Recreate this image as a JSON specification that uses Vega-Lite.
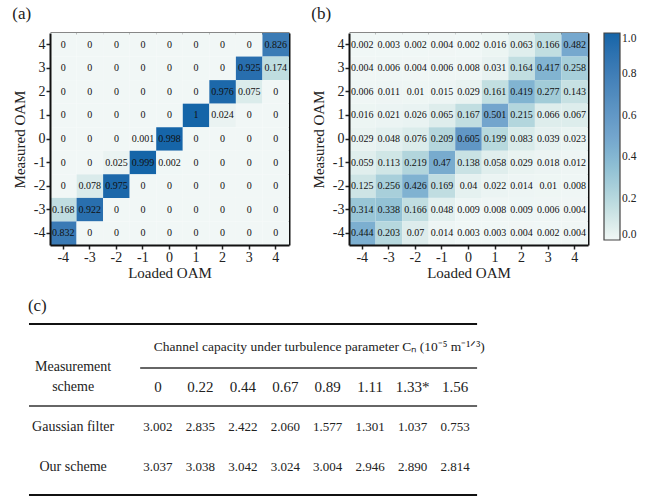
{
  "$schema": "https://vega.github.io/schema/vega-lite/v6.json",
  "padding": {"left": 12, "top": 5, "right": 0, "bottom": 0},
  "background": "white",
  "config": {
    "font": "Liberation Serif",
    "view": {"stroke": null},
    "axis": {"labelFont": "Liberation Serif", "titleFont": "Liberation Serif", "labelFontSize": 14, "titleFontSize": 15, "titleFontWeight": "normal", "labelColor": "#222", "titleColor": "#222", "tickColor": "#222", "tickSize": 4, "tickWidth": 1.5, "domain": true, "domainColor": "#111", "domainWidth": 2, "grid": false, "labelPadding": 1},
    "title": {"font": "Liberation Serif", "fontSize": 17, "fontWeight": "normal", "anchor": "start", "color": "#222", "offset": 10},
    "legend": {"gradientLength": 207, "gradientThickness": 16, "labelFont": "Liberation Serif", "labelFontSize": 11.5, "labelColor": "#222", "gradientStrokeColor": "#444", "gradientStrokeWidth": 1.2, "offset": 16, "labelOffset": 6}
  },
  "datasets": {
    "cells": [
      {"p":"a","y":"4","x":"-4","v":0},{"p":"a","y":"4","x":"-3","v":0},{"p":"a","y":"4","x":"-2","v":0},{"p":"a","y":"4","x":"-1","v":0},{"p":"a","y":"4","x":"0","v":0},{"p":"a","y":"4","x":"1","v":0},{"p":"a","y":"4","x":"2","v":0},{"p":"a","y":"4","x":"3","v":0},{"p":"a","y":"4","x":"4","v":0.826},
      {"p":"a","y":"3","x":"-4","v":0},{"p":"a","y":"3","x":"-3","v":0},{"p":"a","y":"3","x":"-2","v":0},{"p":"a","y":"3","x":"-1","v":0},{"p":"a","y":"3","x":"0","v":0},{"p":"a","y":"3","x":"1","v":0},{"p":"a","y":"3","x":"2","v":0},{"p":"a","y":"3","x":"3","v":0.925},{"p":"a","y":"3","x":"4","v":0.174},
      {"p":"a","y":"2","x":"-4","v":0},{"p":"a","y":"2","x":"-3","v":0},{"p":"a","y":"2","x":"-2","v":0},{"p":"a","y":"2","x":"-1","v":0},{"p":"a","y":"2","x":"0","v":0},{"p":"a","y":"2","x":"1","v":0},{"p":"a","y":"2","x":"2","v":0.976},{"p":"a","y":"2","x":"3","v":0.075},{"p":"a","y":"2","x":"4","v":0},
      {"p":"a","y":"1","x":"-4","v":0},{"p":"a","y":"1","x":"-3","v":0},{"p":"a","y":"1","x":"-2","v":0},{"p":"a","y":"1","x":"-1","v":0},{"p":"a","y":"1","x":"0","v":0},{"p":"a","y":"1","x":"1","v":1},{"p":"a","y":"1","x":"2","v":0.024},{"p":"a","y":"1","x":"3","v":0},{"p":"a","y":"1","x":"4","v":0},
      {"p":"a","y":"0","x":"-4","v":0},{"p":"a","y":"0","x":"-3","v":0},{"p":"a","y":"0","x":"-2","v":0},{"p":"a","y":"0","x":"-1","v":0.001},{"p":"a","y":"0","x":"0","v":0.998},{"p":"a","y":"0","x":"1","v":0},{"p":"a","y":"0","x":"2","v":0},{"p":"a","y":"0","x":"3","v":0},{"p":"a","y":"0","x":"4","v":0},
      {"p":"a","y":"-1","x":"-4","v":0},{"p":"a","y":"-1","x":"-3","v":0},{"p":"a","y":"-1","x":"-2","v":0.025},{"p":"a","y":"-1","x":"-1","v":0.999},{"p":"a","y":"-1","x":"0","v":0.002},{"p":"a","y":"-1","x":"1","v":0},{"p":"a","y":"-1","x":"2","v":0},{"p":"a","y":"-1","x":"3","v":0},{"p":"a","y":"-1","x":"4","v":0},
      {"p":"a","y":"-2","x":"-4","v":0},{"p":"a","y":"-2","x":"-3","v":0.078},{"p":"a","y":"-2","x":"-2","v":0.975},{"p":"a","y":"-2","x":"-1","v":0},{"p":"a","y":"-2","x":"0","v":0},{"p":"a","y":"-2","x":"1","v":0},{"p":"a","y":"-2","x":"2","v":0},{"p":"a","y":"-2","x":"3","v":0},{"p":"a","y":"-2","x":"4","v":0},
      {"p":"a","y":"-3","x":"-4","v":0.168},{"p":"a","y":"-3","x":"-3","v":0.922},{"p":"a","y":"-3","x":"-2","v":0},{"p":"a","y":"-3","x":"-1","v":0},{"p":"a","y":"-3","x":"0","v":0},{"p":"a","y":"-3","x":"1","v":0},{"p":"a","y":"-3","x":"2","v":0},{"p":"a","y":"-3","x":"3","v":0},{"p":"a","y":"-3","x":"4","v":0},
      {"p":"a","y":"-4","x":"-4","v":0.832},{"p":"a","y":"-4","x":"-3","v":0},{"p":"a","y":"-4","x":"-2","v":0},{"p":"a","y":"-4","x":"-1","v":0},{"p":"a","y":"-4","x":"0","v":0},{"p":"a","y":"-4","x":"1","v":0},{"p":"a","y":"-4","x":"2","v":0},{"p":"a","y":"-4","x":"3","v":0},{"p":"a","y":"-4","x":"4","v":0},
      {"p":"b","y":"4","x":"-4","v":0.002},{"p":"b","y":"4","x":"-3","v":0.003},{"p":"b","y":"4","x":"-2","v":0.002},{"p":"b","y":"4","x":"-1","v":0.004},{"p":"b","y":"4","x":"0","v":0.002},{"p":"b","y":"4","x":"1","v":0.016},{"p":"b","y":"4","x":"2","v":0.063},{"p":"b","y":"4","x":"3","v":0.166},{"p":"b","y":"4","x":"4","v":0.482},
      {"p":"b","y":"3","x":"-4","v":0.004},{"p":"b","y":"3","x":"-3","v":0.006},{"p":"b","y":"3","x":"-2","v":0.004},{"p":"b","y":"3","x":"-1","v":0.006},{"p":"b","y":"3","x":"0","v":0.008},{"p":"b","y":"3","x":"1","v":0.031},{"p":"b","y":"3","x":"2","v":0.164},{"p":"b","y":"3","x":"3","v":0.417},{"p":"b","y":"3","x":"4","v":0.258},
      {"p":"b","y":"2","x":"-4","v":0.006},{"p":"b","y":"2","x":"-3","v":0.011},{"p":"b","y":"2","x":"-2","v":0.01},{"p":"b","y":"2","x":"-1","v":0.015},{"p":"b","y":"2","x":"0","v":0.029},{"p":"b","y":"2","x":"1","v":0.161},{"p":"b","y":"2","x":"2","v":0.419},{"p":"b","y":"2","x":"3","v":0.277},{"p":"b","y":"2","x":"4","v":0.143},
      {"p":"b","y":"1","x":"-4","v":0.016},{"p":"b","y":"1","x":"-3","v":0.021},{"p":"b","y":"1","x":"-2","v":0.026},{"p":"b","y":"1","x":"-1","v":0.065},{"p":"b","y":"1","x":"0","v":0.167},{"p":"b","y":"1","x":"1","v":0.501},{"p":"b","y":"1","x":"2","v":0.215},{"p":"b","y":"1","x":"3","v":0.066},{"p":"b","y":"1","x":"4","v":0.067},
      {"p":"b","y":"0","x":"-4","v":0.029},{"p":"b","y":"0","x":"-3","v":0.048},{"p":"b","y":"0","x":"-2","v":0.076},{"p":"b","y":"0","x":"-1","v":0.209},{"p":"b","y":"0","x":"0","v":0.605},{"p":"b","y":"0","x":"1","v":0.199},{"p":"b","y":"0","x":"2","v":0.083},{"p":"b","y":"0","x":"3","v":0.039},{"p":"b","y":"0","x":"4","v":0.023},
      {"p":"b","y":"-1","x":"-4","v":0.059},{"p":"b","y":"-1","x":"-3","v":0.113},{"p":"b","y":"-1","x":"-2","v":0.219},{"p":"b","y":"-1","x":"-1","v":0.47},{"p":"b","y":"-1","x":"0","v":0.138},{"p":"b","y":"-1","x":"1","v":0.058},{"p":"b","y":"-1","x":"2","v":0.029},{"p":"b","y":"-1","x":"3","v":0.018},{"p":"b","y":"-1","x":"4","v":0.012},
      {"p":"b","y":"-2","x":"-4","v":0.125},{"p":"b","y":"-2","x":"-3","v":0.256},{"p":"b","y":"-2","x":"-2","v":0.426},{"p":"b","y":"-2","x":"-1","v":0.169},{"p":"b","y":"-2","x":"0","v":0.04},{"p":"b","y":"-2","x":"1","v":0.022},{"p":"b","y":"-2","x":"2","v":0.014},{"p":"b","y":"-2","x":"3","v":0.01},{"p":"b","y":"-2","x":"4","v":0.008},
      {"p":"b","y":"-3","x":"-4","v":0.314},{"p":"b","y":"-3","x":"-3","v":0.338},{"p":"b","y":"-3","x":"-2","v":0.166},{"p":"b","y":"-3","x":"-1","v":0.048},{"p":"b","y":"-3","x":"0","v":0.009},{"p":"b","y":"-3","x":"1","v":0.008},{"p":"b","y":"-3","x":"2","v":0.009},{"p":"b","y":"-3","x":"3","v":0.006},{"p":"b","y":"-3","x":"4","v":0.004},
      {"p":"b","y":"-4","x":"-4","v":0.444},{"p":"b","y":"-4","x":"-3","v":0.203},{"p":"b","y":"-4","x":"-2","v":0.07},{"p":"b","y":"-4","x":"-1","v":0.014},{"p":"b","y":"-4","x":"0","v":0.003},{"p":"b","y":"-4","x":"1","v":0.003},{"p":"b","y":"-4","x":"2","v":0.004},{"p":"b","y":"-4","x":"3","v":0.002},{"p":"b","y":"-4","x":"4","v":0.004}
    ],
    "table": [
      {"kind":"title","r":1,"c":1.9,"t":"Channel capacity under turbulence parameter Cₙ (10⁻⁵ m⁻¹ᐟ³)"},
      {"kind":"rowhead","r":1.5,"c":0,"t":"Measurement\nscheme"},
      {"kind":"colhead","r":2,"c":2,"t":"0"},
      {"kind":"colhead","r":2,"c":3,"t":"0.22"},
      {"kind":"colhead","r":2,"c":4,"t":"0.44"},
      {"kind":"colhead","r":2,"c":5,"t":"0.67"},
      {"kind":"colhead","r":2,"c":6,"t":"0.89"},
      {"kind":"colhead","r":2,"c":7,"t":"1.11"},
      {"kind":"colhead","r":2,"c":8,"t":"1.33*"},
      {"kind":"colhead","r":2,"c":9,"t":"1.56"},
      {"kind":"rowhead","r":3,"c":0,"t":"Gaussian filter"},
      {"kind":"value","r":3,"c":2,"t":"3.002"},
      {"kind":"value","r":3,"c":3,"t":"2.835"},
      {"kind":"value","r":3,"c":4,"t":"2.422"},
      {"kind":"value","r":3,"c":5,"t":"2.060"},
      {"kind":"value","r":3,"c":6,"t":"1.577"},
      {"kind":"value","r":3,"c":7,"t":"1.301"},
      {"kind":"value","r":3,"c":8,"t":"1.037"},
      {"kind":"value","r":3,"c":9,"t":"0.753"},
      {"kind":"rowhead","r":4,"c":0,"t":"Our scheme"},
      {"kind":"value","r":4,"c":2,"t":"3.037"},
      {"kind":"value","r":4,"c":3,"t":"3.038"},
      {"kind":"value","r":4,"c":4,"t":"3.042"},
      {"kind":"value","r":4,"c":5,"t":"3.024"},
      {"kind":"value","r":4,"c":6,"t":"3.004"},
      {"kind":"value","r":4,"c":7,"t":"2.946"},
      {"kind":"value","r":4,"c":8,"t":"2.890"},
      {"kind":"value","r":4,"c":9,"t":"2.814"}
    ],
    "rules": [
      {"kind":"outer","r":0.425,"c1":-1.04,"c2":9.52},
      {"kind":"inner","r":1.525,"c1":1.58,"c2":9.52},
      {"kind":"inner","r":2.475,"c1":-1.04,"c2":9.52},
      {"kind":"outer","r":4.7,"c1":-1.04,"c2":9.52}
    ]
  },
  "spacing": 16,
  "vconcat": [
    {
      "spacing": 22,
      "hconcat": [
        {
          "title": {"text": "(a)"},
          "data": {"name": "cells"},
          "transform": [{"filter": "datum.p === 'a'"}],
          "width": 239, "height": 212,
          "resolve": {"axis": {"x": "independent", "y": "independent"}},
          "layer": [
            {"mark": "rect", "encoding": {
              "x": {"field": "x", "type": "ordinal", "sort": ["-4","-3","-2","-1","0","1","2","3","4"], "axis": {"title": "Loaded OAM", "labelAngle": 0, "titlePadding": 1}},
              "y": {"field": "y", "type": "ordinal", "sort": ["4","3","2","1","0","-1","-2","-3","-4"], "axis": {"title": "Measured OAM", "titlePadding": 6}},
              "color": {"field": "v", "type": "quantitative", "scale": {"domain": [0, 1], "range": ["#f1f7f6", "#73a5cd", "#1565a8"]}, "legend": {"values": [0, 0.2, 0.4, 0.6, 0.8, 1], "format": ".1f", "title": null}}}},
            {"mark": {"type": "text", "fontSize": 10, "color": "#111"}, "encoding": {
              "x": {"field": "x", "type": "ordinal", "sort": ["-4","-3","-2","-1","0","1","2","3","4"], "axis": {"orient": "top", "title": null, "labels": false, "ticks": false}},
              "y": {"field": "y", "type": "ordinal", "sort": ["4","3","2","1","0","-1","-2","-3","-4"], "axis": {"orient": "right", "title": null, "labels": false, "ticks": false}},
              "text": {"field": "v", "type": "nominal"}}}
          ]
        },
        {
          "title": {"text": "(b)"},
          "data": {"name": "cells"},
          "transform": [{"filter": "datum.p === 'b'"}],
          "width": 239, "height": 212,
          "resolve": {"axis": {"x": "independent", "y": "independent"}},
          "layer": [
            {"mark": "rect", "encoding": {
              "x": {"field": "x", "type": "ordinal", "sort": ["-4","-3","-2","-1","0","1","2","3","4"], "axis": {"title": "Loaded OAM", "labelAngle": 0, "titlePadding": 1}},
              "y": {"field": "y", "type": "ordinal", "sort": ["4","3","2","1","0","-1","-2","-3","-4"], "axis": {"title": "Measured OAM", "titlePadding": 6}},
              "color": {"field": "v", "type": "quantitative", "scale": {"domain": [0, 1], "range": ["#f1f7f6", "#73a5cd", "#1565a8"]}, "legend": {"values": [0, 0.2, 0.4, 0.6, 0.8, 1], "format": ".1f", "title": null}}}},
            {"mark": {"type": "text", "fontSize": 10, "color": "#111"}, "encoding": {
              "x": {"field": "x", "type": "ordinal", "sort": ["-4","-3","-2","-1","0","1","2","3","4"], "axis": {"orient": "top", "title": null, "labels": false, "ticks": false}},
              "y": {"field": "y", "type": "ordinal", "sort": ["4","3","2","1","0","-1","-2","-3","-4"], "axis": {"orient": "right", "title": null, "labels": false, "ticks": false}},
              "text": {"field": "v", "type": "nominal"}}}
          ]
        }
      ]
    },
    {
      "title": {"text": "(c)", "offset": 8},
      "width": 448, "height": 171,
      "layer": [
        {
          "data": {"name": "rules"},
          "transform": [{"filter": "datum.kind === 'outer'"}],
          "mark": {"type": "rule", "strokeWidth": 2.2, "color": "#111"},
          "encoding": {
            "x": {"field": "c1", "type": "quantitative", "scale": {"domain": [-0.545, 10.013], "nice": false, "zero": false}, "axis": null},
            "x2": {"field": "c2"},
            "y": {"field": "r", "type": "quantitative", "scale": {"domain": [0.425, 4.7], "nice": false, "zero": false, "reverse": true}, "axis": null}
          }
        },
        {
          "data": {"name": "rules"},
          "transform": [{"filter": "datum.kind === 'inner'"}],
          "mark": {"type": "rule", "strokeWidth": 1.4, "color": "#333"},
          "encoding": {
            "x": {"field": "c1", "type": "quantitative", "axis": null},
            "x2": {"field": "c2"},
            "y": {"field": "r", "type": "quantitative", "axis": null}
          }
        },
        {
          "data": {"name": "table"},
          "transform": [{"filter": "datum.kind === 'title'"}],
          "mark": {"type": "text", "fontSize": 13.5, "align": "left", "color": "#222"},
          "encoding": {"x": {"field": "c", "type": "quantitative", "axis": null}, "y": {"field": "r", "type": "quantitative", "axis": null}, "text": {"field": "t"}}
        },
        {
          "data": {"name": "table"},
          "transform": [{"filter": "datum.kind === 'rowhead'"}],
          "mark": {"type": "text", "fontSize": 14, "align": "center", "lineBreak": "\n", "lineHeight": 20, "color": "#222"},
          "encoding": {"x": {"field": "c", "type": "quantitative", "axis": null}, "y": {"field": "r", "type": "quantitative", "axis": null}, "text": {"field": "t"}}
        },
        {
          "data": {"name": "table"},
          "transform": [{"filter": "datum.kind === 'colhead'"}],
          "mark": {"type": "text", "fontSize": 15, "align": "center", "color": "#222"},
          "encoding": {"x": {"field": "c", "type": "quantitative", "axis": null}, "y": {"field": "r", "type": "quantitative", "axis": null}, "text": {"field": "t"}}
        },
        {
          "data": {"name": "table"},
          "transform": [{"filter": "datum.kind === 'value'"}],
          "mark": {"type": "text", "fontSize": 13, "align": "center", "color": "#222"},
          "encoding": {"x": {"field": "c", "type": "quantitative", "axis": null}, "y": {"field": "r", "type": "quantitative", "axis": null}, "text": {"field": "t"}}
        }
      ]
    }
  ]
}
